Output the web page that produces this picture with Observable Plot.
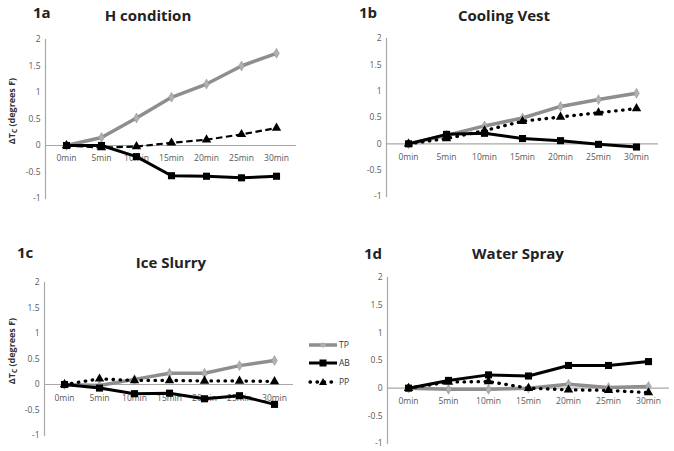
<!DOCTYPE html>
<html>
<head>
<meta charset="utf-8">
<script src="https://cdn.jsdelivr.net/npm/d3@7"></script>
<script src="https://cdn.jsdelivr.net/npm/@observablehq/plot@0.6"></script>
<style>
  html, body { margin: 0; padding: 0; background: #fff; }
  #wrap { position: relative; width: 674px; height: 451px; overflow: hidden; font-family: "Open Sans", sans-serif; }
  .panel { position: absolute; }
  #overlay { position: absolute; left: 0; top: 0; pointer-events: none; }
</style>
</head>
<body>
<div id="wrap"></div>
<script>
// ---- data ----
const times = ["0min", "5min", "10min", "15min", "20min", "25min", "30min"];
const yTicks = [-1, -0.5, 0, 0.5, 1, 1.5, 2];
const seriesNames = ["TP", "AB", "PP"];

// 1a H condition
const hTP = [0, 0.15, 0.52, 0.91, 1.16, 1.50, 1.74];
const hAB = [0, 0.00, -0.21, -0.57, -0.58, -0.61, -0.58];
const hPP = [0, -0.04, -0.02, 0.05, 0.11, 0.21, 0.33];
// 1b Cooling Vest
const cvTP = [0, 0.16, 0.34, 0.49, 0.71, 0.84, 0.96];
const cvAB = [0, 0.18, 0.20, 0.10, 0.06, -0.01, -0.06];
const cvPP = [0, 0.10, 0.25, 0.43, 0.51, 0.59, 0.67];
// 1c Ice Slurry
const isTP = [0, -0.02, 0.10, 0.22, 0.22, 0.37, 0.47];
const isAB = [0, -0.07, -0.18, -0.17, -0.28, -0.22, -0.39];
const isPP = [0, 0.11, 0.08, 0.08, 0.07, 0.07, 0.06];
// 1d Water Spray
const wsTP = [0, -0.02, -0.02, 0.00, 0.07, 0.01, 0.03];
const wsAB = [0, 0.14, 0.24, 0.22, 0.41, 0.41, 0.48];
const wsPP = [0, 0.11, 0.12, 0.00, -0.03, -0.04, -0.08];

const panelTags = ["1a", "1b", "1c", "1d"];
const panelTitles = ["H condition", "Cooling Vest", "Ice Slurry", "Water Spray"];

// ---- styles / layout ----
const GRAY = "#8e8e8e", AXIS = "#a8a8a8", TICK = "#595959";
const DOT = "0.5,6.5";
const panels = [
  {tp: hTP, ab: hAB, pp: hPP, dash: "6.5,3.5", cap: "butt", ppW: 2.2, left: 0, top: 0, w: 337, h: 225,
   m: [39, 41, 27, 45], tagX: 33, tagY: 17.5, titleX: 148, titleY: 21, ylabel: [12.5, 111], dy: 13},
  {tp: cvTP, ab: cvAB, pp: cvPP, dash: DOT, cap: "round", ppW: 3.3, left: 337, top: 0, w: 337, h: 225,
   m: [38, 16, 29, 49], tagX: 359, tagY: 17.5, titleX: 504, titleY: 21, ylabel: null, dy: 13},
  {tp: isTP, ab: isAB, pp: isPP, dash: DOT, cap: "round", ppW: 3.3, left: 0, top: 225, w: 337, h: 226,
   m: [57, 44, 16, 44], tagX: 17, tagY: 258, titleX: 171, titleY: 268, ylabel: [13, 351], dy: 14},
  {tp: wsTP, ab: wsAB, pp: wsPP, dash: DOT, cap: "round", ppW: 3.3, left: 337, top: 225, w: 337, h: 226,
   m: [52, 5, 8, 50], tagX: 364, tagY: 259, titleX: 518, titleY: 259, ylabel: null, dy: 13}
];

const rows = vals => times.map((t, i) => ({t, v: vals[i]}));
const wrap = document.getElementById("wrap");

panels.forEach(p => {
  const tp = rows(p.tp), ab = rows(p.ab), pp = rows(p.pp);
  const chart = Plot.plot({
    width: p.w, height: p.h,
    marginTop: p.m[0], marginRight: p.m[1], marginBottom: p.m[2], marginLeft: p.m[3],
    style: {fontFamily: "'Open Sans', sans-serif", background: "transparent", overflow: "visible"},
    x: {type: "point", domain: times, padding: 0.5, axis: null},
    y: {domain: [-1, 2], nice: false, label: null},
    marks: [
      Plot.frame({anchor: "left", stroke: AXIS, strokeWidth: 1.2}),
      Plot.ruleY([0], {stroke: AXIS, strokeWidth: 1.2}),
      Plot.axisY({ticks: yTicks, tickSize: 0, tickPadding: 5, label: null, tickFormat: d => String(d), fontSize: 8.5, fill: TICK}),
      Plot.text(times, {x: d => d, y: () => 0, dy: p.dy, fontSize: 8.5, fill: TICK}),
      Plot.line(tp, {x: "t", y: "v", stroke: GRAY, strokeWidth: 3.5}),
      Plot.line(pp, {x: "t", y: "v", stroke: "#000", strokeWidth: p.ppW, strokeDasharray: p.dash, strokeLinecap: p.cap}),
      Plot.line(ab, {x: "t", y: "v", stroke: "#000", strokeWidth: 3}),
      Plot.dot(tp, {x: "t", y: "v", symbol: "diamond", r: 3, fill: "#b0b0b0", stroke: GRAY, strokeWidth: 0.5}),
      Plot.dot(pp, {x: "t", y: "v", symbol: "triangle", r: 3.5, fill: "#000"}),
      Plot.dot(ab, {x: "t", y: "v", symbol: "square", r: 4, fill: "#000"})
    ]
  });
  chart.classList.add("panel");
  chart.style.left = p.left + "px";
  chart.style.top = p.top + "px";
  wrap.appendChild(chart);
});

// ---- overlay: titles, y labels, legend ----
const ns = "http://www.w3.org/2000/svg";
const ov = document.createElementNS(ns, "svg");
ov.setAttribute("id", "overlay");
ov.setAttribute("width", 674);
ov.setAttribute("height", 451);
wrap.appendChild(ov);
function el(name, attrs, text) {
  const e = document.createElementNS(ns, name);
  for (const k in attrs) e.setAttribute(k, attrs[k]);
  if (text != null) e.textContent = text;
  ov.appendChild(e);
  return e;
}
const FF = "'Open Sans', sans-serif";
panels.forEach((p, i) => {
  el("text", {x: p.tagX, y: p.tagY, "font-family": FF, "font-size": 15, "font-weight": "bold", fill: "#222"}, panelTags[i]);
  el("text", {x: p.titleX, y: p.titleY, "text-anchor": "middle", "font-family": FF, "font-size": 15, "font-weight": "bold", fill: "#222"}, panelTitles[i]);
  if (p.ylabel) {
    const t = el("text", {transform: `translate(${p.ylabel[0]},${p.ylabel[1]}) rotate(-90)`, "text-anchor": "middle", "dominant-baseline": "middle",
      "font-family": FF, "font-size": 9, "font-weight": "bold", fill: "#333"});
    const a = document.createElementNS(ns, "tspan"); a.textContent = "ΔT"; t.appendChild(a);
    const b = document.createElementNS(ns, "tspan"); b.textContent = "C"; b.setAttribute("font-size", 6.5); b.setAttribute("dy", 2); t.appendChild(b);
    const c = document.createElementNS(ns, "tspan"); c.textContent = " (degrees F)"; c.setAttribute("dy", -2); t.appendChild(c);
  }
});
// legend
const legY = [345, 363, 382];
seriesNames.forEach((name, i) => {
  const y = legY[i];
  if (i === 0) {
    el("line", {x1: 309, x2: 337, y1: y, y2: y, stroke: GRAY, "stroke-width": 3.5});
    el("path", {d: `M323,${y-3}L326,${y}L323,${y+3}L320,${y}Z`, fill: "#b0b0b0"});
  } else if (i === 1) {
    el("line", {x1: 309, x2: 337, y1: y, y2: y, stroke: "#000", "stroke-width": 3});
    el("rect", {x: 319.5, y: y - 3.5, width: 7, height: 7, fill: "#000"});
  } else {
    el("line", {x1: 310, x2: 337, y1: y, y2: y, stroke: "#000", "stroke-width": 3.3, "stroke-dasharray": DOT, "stroke-linecap": "round"});
    el("path", {d: `M323,${y-4}L327,${y+3}L319,${y+3}Z`, fill: "#000"});
  }
  el("text", {x: 339, y: y + 3, "font-family": FF, "font-size": 8.5, fill: "#333"}, name);
});
</script>
</body>
</html>
